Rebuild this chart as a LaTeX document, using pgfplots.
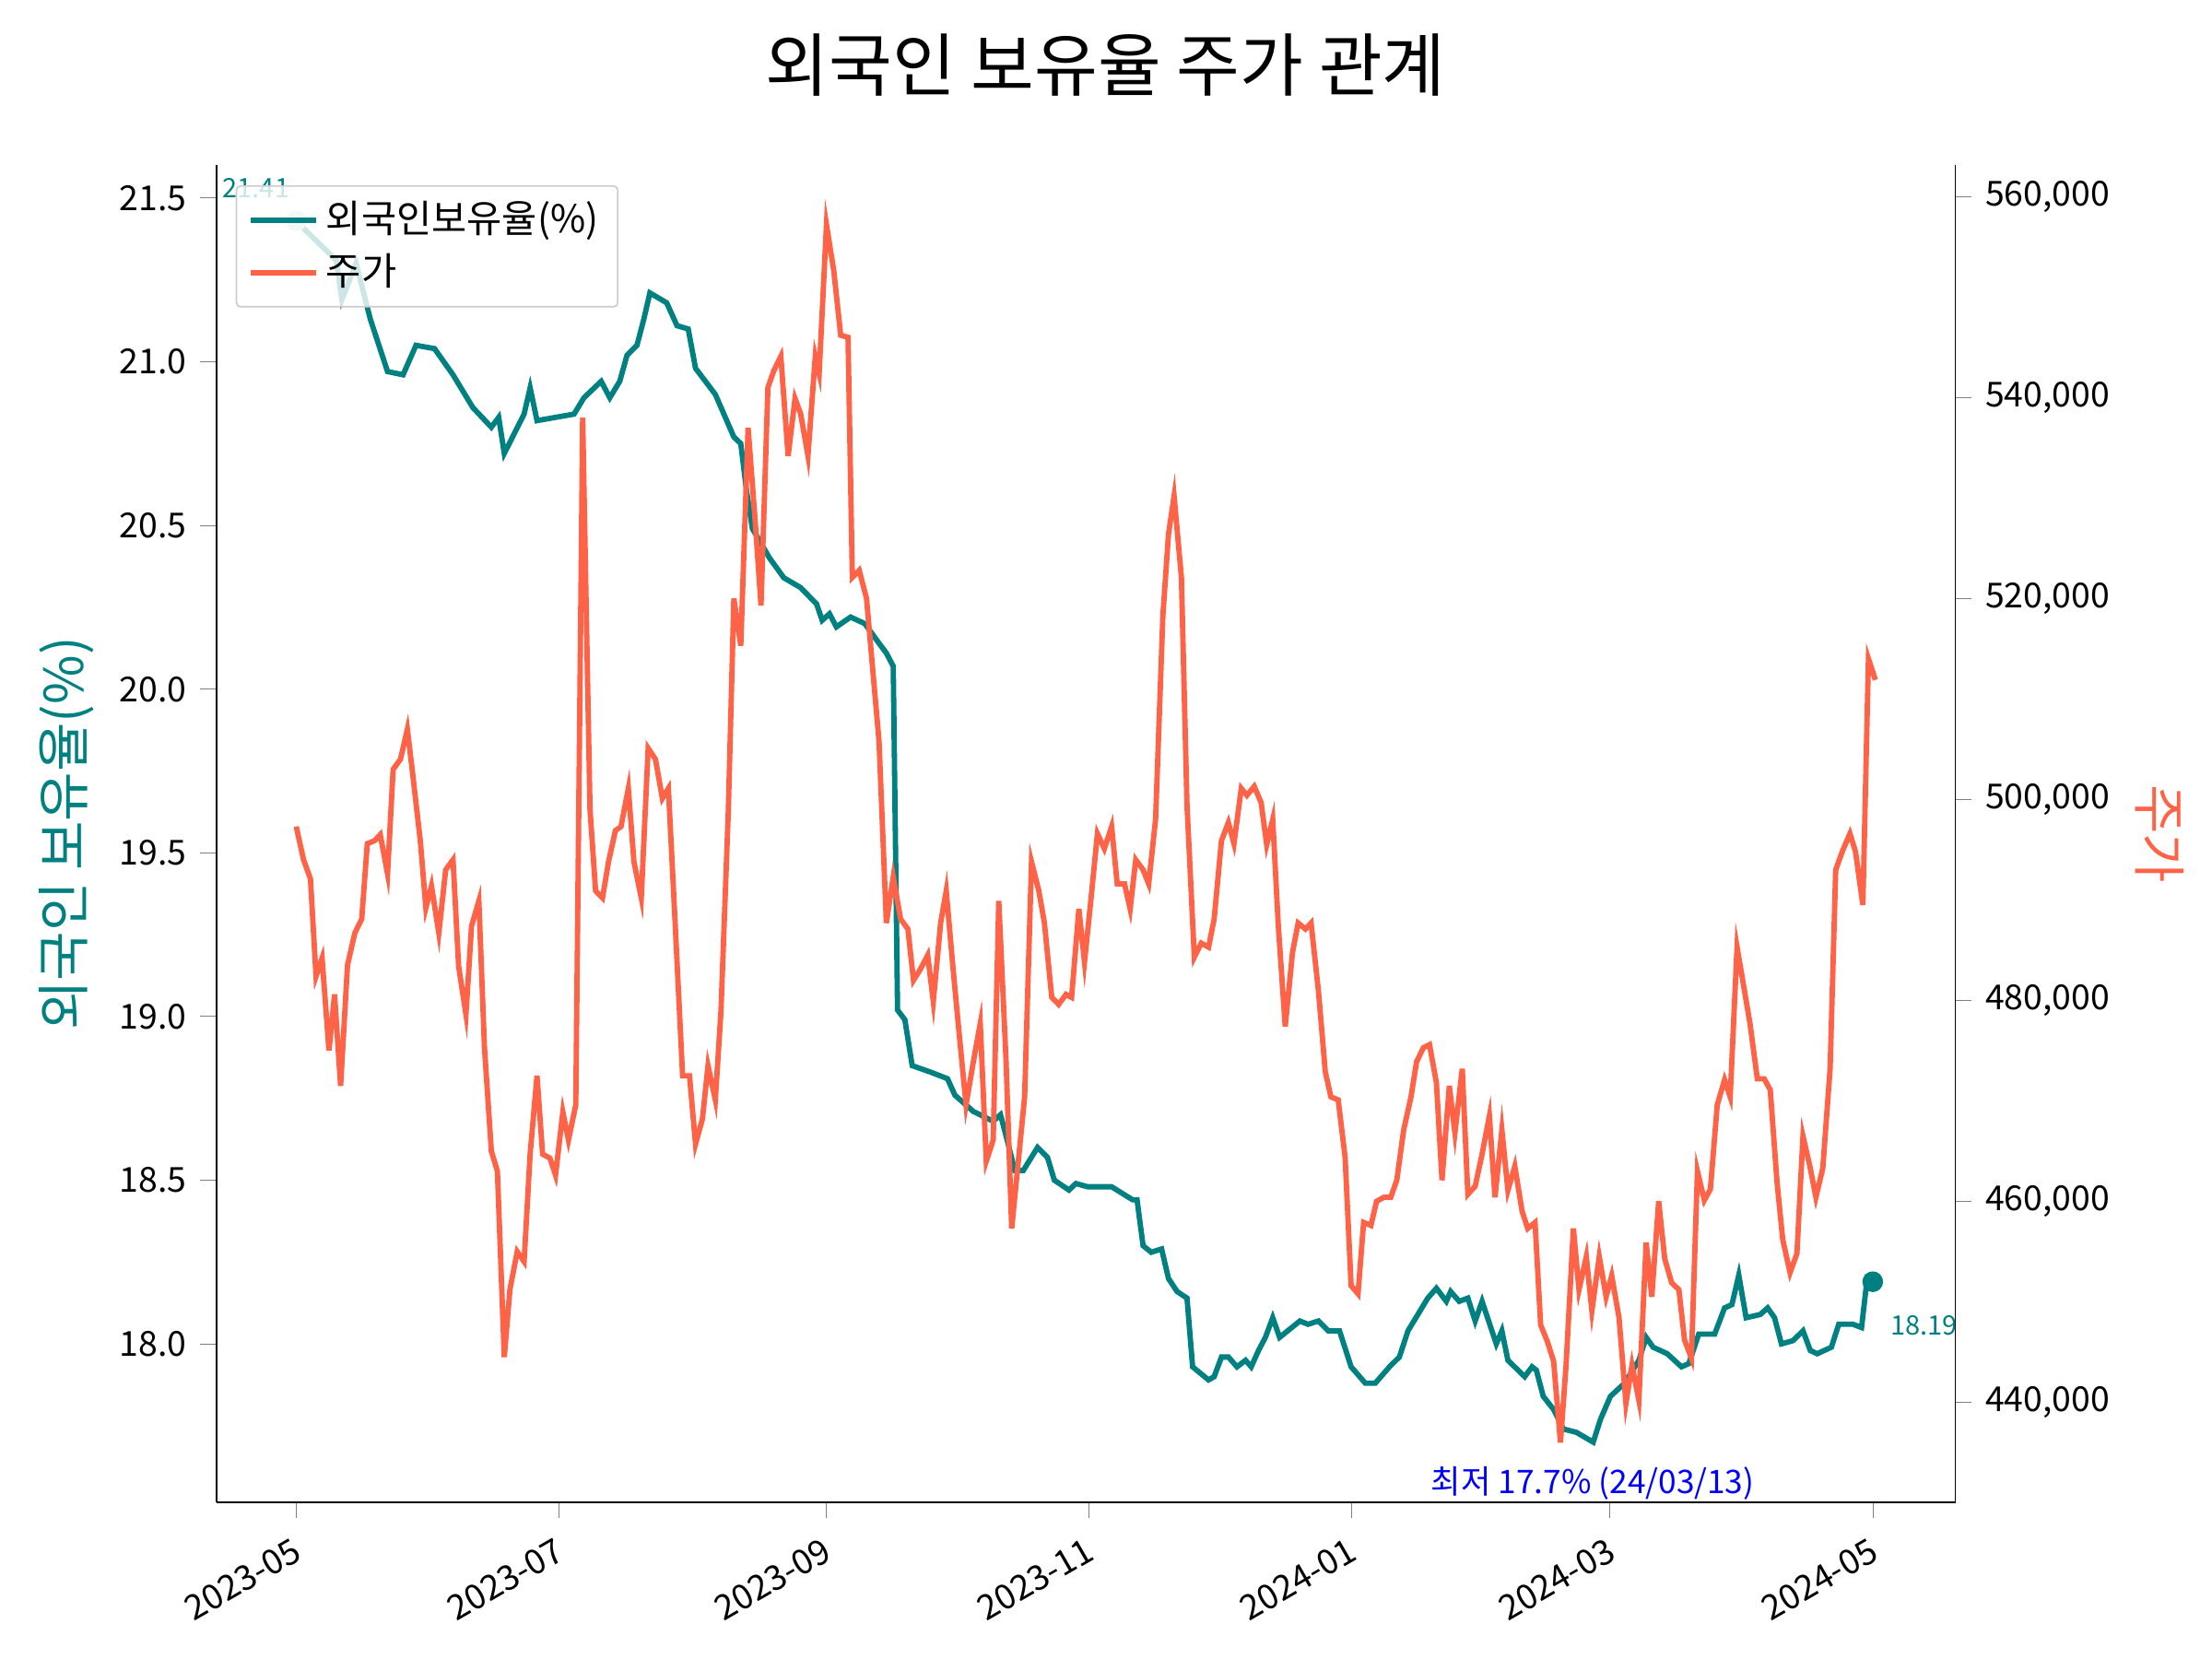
\documentclass[border=0pt]{standalone}
\usepackage{pgfplots}
\pgfplotsset{compat=1.18}
\usepackage{fontspec}
\setmainfont{Noto Sans CJK KR}
\definecolor{tealc}{HTML}{008080}
\definecolor{tom}{HTML}{FF6347}
\begin{document}
\begin{tikzpicture}
\useasboundingbox (0,0) rectangle (578.16pt,433.6pt);
\node at (289pt,416.5pt) {\fontsize{18}{20}\selectfont 외국인 보유율 주가 관계};
\begin{axis}[at={(56.6pt,41pt)},anchor=south west,scale only axis,width=454.5pt,height=349.4pt,
 xmin=-18.5,xmax=385.2,ymin=17.517,ymax=21.6,
 /pgf/number format/assume math mode=true,
 xtick={0,61,123,184,245,305,366},
 xticklabels={2023-05,2023-07,2023-09,2023-11,2024-01,2024-03,2024-05},
 xticklabel style={rotate=30,anchor=north east,font=\fontsize{9}{10}\selectfont},
 ytick={18,18.5,...,21.5},
 yticklabel style={/pgf/number format/fixed,/pgf/number format/fixed zerofill,/pgf/number format/precision=1,font=\fontsize{9}{10}\selectfont},
 tick align=outside, axis y line*=left, axis x line*=bottom,
 ylabel={\fontsize{14}{16}\selectfont 외국인 보유율(\%)}, ylabel style={color=tealc},
 clip=false,
 legend style={at={(0.011,0.985)},anchor=north west,font=\fontsize{10}{12}\selectfont,draw=black!20,rounded corners=1pt,fill=white,fill opacity=0.8,text opacity=1,cells={anchor=west}},
 legend cell align=left]
\addplot[tealc,line width=1.4pt] coordinates {
(0,21.43)(4.6,21.37)(9.3,21.31)(10.6,21.19)(13.9,21.30)(17.2,21.13)(21.2,20.97)(24.8,20.96)(27.8,21.05)(32.1,21.04)(36.4,20.96)(41.0,20.86)(45.3,20.80)(47.0,20.83)(48.3,20.72)(52.9,20.84)(54.3,20.92)(55.9,20.82)(60.2,20.83)(64.5,20.84)(66.8,20.89)(70.8,20.94)(72.8,20.89)(75.1,20.94)(76.8,21.02)(79.1,21.05)(80.7,21.13)(82.1,21.21)(86.0,21.18)(88.4,21.11)(91.0,21.10)(92.7,20.98)(97.3,20.90)(101.6,20.77)(103.2,20.75)(104.6,20.60)(105.9,20.49)(109.9,20.40)(113.2,20.34)(117.1,20.31)(120.8,20.26)(122.1,20.21)(123.8,20.23)(125.4,20.19)(128.7,20.22)(132.0,20.20)(135.3,20.14)(137.0,20.11)(138.6,20.07)(139.6,19.02)(141.3,18.99)(143.0,18.85)(147.3,18.83)(151.2,18.81)(152.9,18.76)(157.2,18.71)(161.8,18.68)(163.5,18.70)(165.1,18.62)(166.8,18.53)(168.8,18.53)(172.1,18.60)(174.4,18.57)(176.0,18.50)(179.4,18.47)(181.0,18.49)(183.7,18.48)(189.3,18.48)(194.2,18.44)(195.2,18.44)(196.6,18.30)(198.5,18.28)(200.9,18.29)(202.5,18.20)(204.5,18.16)(206.8,18.14)(208.1,17.93)(211.8,17.89)(213.1,17.90)(214.8,17.96)(216.4,17.96)(218.4,17.93)(220.4,17.95)(221.7,17.93)(223.4,17.98)(225.0,18.02)(226.7,18.08)(228.3,18.02)(233.0,18.07)(234.9,18.06)(237.3,18.07)(239.6,18.04)(242.2,18.04)(244.9,17.93)(248.2,17.88)(250.5,17.88)(253.8,17.93)(256.1,17.96)(258.1,18.04)(262.7,18.14)(264.7,18.17)(267.0,18.13)(268.0,18.16)(270.0,18.13)(272.0,18.14)(273.7,18.07)(275.3,18.13)(278.6,18.00)(279.9,18.04)(281.3,17.95)(285.2,17.90)(286.9,17.93)(287.9,17.92)(289.5,17.84)(291.9,17.80)(294.2,17.74)(297.2,17.73)(301.1,17.70)(302.8,17.77)(305.1,17.84)(308.4,17.88)(311.7,17.95)(313.4,18.02)(315.0,17.99)(318.3,17.97)(321.6,17.93)(323.3,17.94)(325.6,18.03)(329.3,18.03)(331.6,18.11)(333.3,18.12)(334.9,18.21)(336.6,18.08)(339.9,18.09)(341.6,18.11)(343.2,18.08)(344.8,18.00)(347.5,18.01)(349.8,18.04)(351.5,17.98)(353.1,17.97)(356.4,17.99)(358.1,18.06)(361.4,18.06)(363.4,18.05)(364.7,18.20)(366.0,18.19)};
\addlegendentry{외국인보유율(\%)}
\addlegendimage{tom,line width=1.4pt}
\addlegendentry{주가}
\addplot[only marks,mark=*,mark size=2.5pt,color=tealc,forget plot] coordinates {(366,18.19)};
\addplot[only marks,mark=*,mark size=2.5pt,color=tealc!25,forget plot] coordinates {(0,21.43)};
\node[tealc,font=\fontsize{7}{8}\selectfont] at (axis cs:-9.3,21.53) {21.41};
\node[tealc,font=\fontsize{7}{8}\selectfont,anchor=west] at (axis cs:367,18.056) {18.19};
\node[blue,font=\fontsize{8.5}{10}\selectfont] at (axis cs:301,17.573) {최저 17.7\% (24/03/13)};
\end{axis}
\begin{axis}[at={(56.6pt,41pt)},anchor=south west,scale only axis,width=454.5pt,height=349.4pt,
 xmin=-18.5,xmax=385.2,ymin=430.07,ymax=563.12,
 axis x line=none, axis y line*=right, tick align=outside,
 ytick={440,460,480,500,520,540,560},
 yticklabels={{440,000},{460,000},{480,000},{500,000},{520,000},{540,000},{560,000}},
 yticklabel style={font=\fontsize{9}{10}\selectfont},
 ylabel={\fontsize{14}{16}\selectfont 주가}, ylabel style={color=tom,rotate=180}]
\addplot[tom,line width=1.4pt] coordinates {
(0,497.3)(1.7,494.0)(3.3,492.1)(4.6,482.4)(6.0,484.2)(7.6,475.0)(8.9,480.6)(10.3,471.5)(11.9,483.5)(13.6,486.7)(15.2,488.1)(16.5,495.6)(18.2,495.9)(19.5,496.5)(21.2,492.6)(22.5,503.0)(24.2,504.0)(25.8,507.0)(27.1,502.3)(28.8,495.9)(30.1,489.2)(31.4,491.4)(33.1,486.7)(34.7,493.0)(36.4,494.0)(37.7,483.4)(39.4,478.6)(40.7,487.4)(42.4,489.9)(43.7,475.3)(45.3,465.0)(46.7,463.0)(48.3,444.5)(49.6,451.2)(51.3,455.0)(52.9,454.0)(54.3,464.7)(55.9,472.5)(57.2,464.7)(58.9,464.3)(60.2,462.6)(61.9,468.9)(63.2,466.1)(64.9,469.6)(66.5,538.0)(68.2,499.0)(69.5,490.9)(71.1,490.2)(72.5,493.8)(74.1,496.9)(75.4,497.3)(77.1,501.1)(78.4,493.8)(80.1,490.2)(81.7,505.1)(83.4,504.0)(85.0,500.1)(86.4,501.1)(88.0,487.4)(89.7,472.5)(91.3,472.5)(92.7,465.7)(94.3,468.2)(95.6,473.5)(97.3,470.1)(98.6,478.9)(100.3,498.7)(101.6,520.0)(103.2,515.3)(104.9,537.0)(106.6,527.4)(107.9,519.3)(109.5,541.0)(110.9,542.7)(112.5,544.1)(114.2,534.2)(115.8,539.9)(117.1,538.4)(118.8,534.2)(120.5,544.1)(121.4,542.4)(123.1,557.2)(124.8,552.6)(126.4,546.2)(128.1,546.0)(129.1,522.1)(130.7,522.8)(132.4,520.0)(133.7,513.6)(135.3,505.8)(137.0,487.7)(138.6,492.3)(140.3,488.1)(142.0,487.1)(143.3,482.0)(144.9,483.1)(146.6,484.5)(147.9,479.9)(149.6,487.7)(150.9,490.9)(152.5,483.1)(153.9,476.7)(155.5,469.6)(157.2,473.9)(158.8,477.7)(160.2,464.0)(161.8,466.1)(163.1,489.9)(164.8,473.9)(166.1,457.3)(167.8,464.7)(169.1,470.4)(170.7,493.8)(172.4,490.9)(173.7,487.7)(175.4,480.3)(177.0,479.6)(178.7,480.6)(180.0,480.3)(181.7,489.1)(183.0,483.8)(184.6,490.5)(186.0,496.6)(187.6,495.1)(189.3,497.3)(190.6,491.6)(192.3,491.6)(193.6,489.1)(194.9,494.0)(196.6,493.0)(197.9,491.6)(199.5,498.0)(201.2,518.3)(202.5,526.4)(203.8,530.2)(205.5,522.1)(206.8,499.4)(208.5,484.3)(210.1,485.7)(211.8,485.3)(213.1,488.1)(214.8,495.9)(216.4,497.7)(217.7,495.6)(219.4,501.1)(220.7,500.4)(222.4,501.3)(224.0,499.7)(225.3,495.5)(226.7,498.0)(228.0,487.4)(229.6,477.4)(231.3,484.8)(232.6,487.7)(234.3,487.1)(235.6,487.7)(237.3,481.0)(238.9,472.9)(240.2,470.4)(241.9,470.1)(243.5,464.4)(244.9,451.6)(246.5,450.8)(247.8,457.9)(249.5,457.6)(250.8,460.0)(252.5,460.4)(254.1,460.4)(255.5,462.1)(257.1,467.1)(258.8,470.4)(260.1,473.9)(261.7,475.3)(263.1,475.6)(264.7,471.8)(266.0,462.1)(267.7,471.5)(269.0,466.8)(270.7,473.2)(272.0,460.7)(273.7,461.5)(275.3,464.7)(277.0,468.5)(278.3,460.4)(279.9,467.1)(281.3,461.1)(282.9,463.5)(284.6,459.0)(285.9,457.3)(287.6,457.9)(288.9,447.7)(290.5,446.0)(291.9,444.1)(293.5,436.0)(294.8,443.7)(296.5,457.3)(297.8,451.2)(299.5,454.5)(300.8,449.1)(302.5,454.5)(304.1,450.5)(305.4,452.6)(307.1,448.4)(308.7,439.9)(310.1,443.7)(311.7,440.2)(313.4,455.9)(314.7,450.5)(316.3,460.0)(317.7,454.3)(319.3,451.9)(321.0,451.2)(322.3,446.2)(323.9,444.4)(325.3,463.0)(326.9,460.1)(328.3,461.2)(329.9,469.6)(331.6,472.1)(332.9,470.4)(334.5,485.3)(336.2,481.0)(337.5,477.7)(339.2,472.2)(340.8,472.2)(342.2,471.1)(343.8,461.8)(345.1,456.2)(346.8,452.9)(348.4,454.8)(349.8,466.5)(351.4,463.5)(352.8,460.4)(354.4,463.3)(356.1,473.2)(357.4,493.0)(359.0,494.9)(360.7,496.6)(362.0,494.8)(363.7,489.5)(365.0,514.0)(366.6,511.9)};
\end{axis}
\end{tikzpicture}
\end{document}
